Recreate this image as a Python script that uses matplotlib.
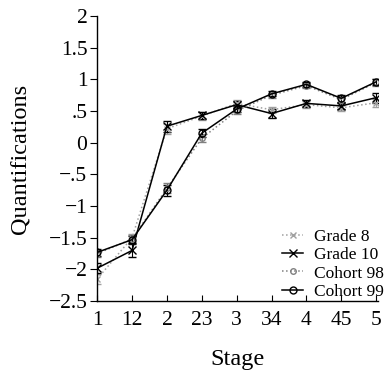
import matplotlib
matplotlib.use("Agg")
import matplotlib.pyplot as plt
from matplotlib.ticker import FuncFormatter
from matplotlib.lines import Line2D

stages = ["1", "12", "2", "23", "3", "34", "4", "45", "5"]
grade8 = [-2.15, -1.50, 0.22, 0.42, 0.62, 0.52, 0.60, 0.55, 0.63]
grade10 = [-1.98, -1.70, 0.26, 0.43, 0.60, 0.46, 0.62, 0.58, 0.71]
cohort98 = [-1.75, -1.52, -0.72, 0.07, 0.50, 0.75, 0.90, 0.68, 0.95]
cohort99 = [-1.73, -1.53, -0.75, 0.15, 0.53, 0.77, 0.92, 0.70, 0.96]
err8 = [0.08, 0.06, 0.08, 0.06, 0.05, 0.05, 0.05, 0.05, 0.06]
err10 = [0.08, 0.10, 0.09, 0.06, 0.05, 0.07, 0.05, 0.05, 0.08]
err98 = [0.06, 0.06, 0.08, 0.06, 0.05, 0.04, 0.04, 0.06, 0.05]
err99 = [0.06, 0.06, 0.09, 0.06, 0.05, 0.04, 0.04, 0.06, 0.05]

plt.rcParams['font.family'] = ['Liberation Serif', 'DejaVu Serif']
plt.rcParams['axes.unicode_minus'] = True

fig = plt.figure(figsize=(3.84, 3.70), dpi=100)
ax = fig.add_axes([0.253, 0.186, 0.731, 0.771])

x = list(range(len(stages)))
series = [
    ("Grade 8", grade8, err8, dict(color="#a0a0a0", ls=":", marker="x", ms=5)),
    ("Grade 10", grade10, err10, dict(color="black", ls="-", marker="x", ms=6)),
    ("Cohort 98", cohort98, err98, dict(color="#808080", ls=":", marker="o", ms=4, mfc="none")),
    ("Cohort 99", cohort99, err99, dict(color="black", ls="-", marker="o", ms=5, mfc="none")),
]
handles = []
for label, y, e, st in series:
    ax.errorbar(x, y, yerr=e, lw=1.1, capsize=3, elinewidth=0.8,
                capthick=0.8, mew=1.0, **st)
    handles.append(Line2D([], [], lw=1.1, mew=1.0, label=label, **st))

ax.set_xlim(0, 8.05)
ax.set_ylim(-2.5, 2)
ax.set_xticks(x)
ax.set_xticklabels(stages)
ax.set_yticks([-2.5, -2, -1.5, -1, -0.5, 0, 0.5, 1, 1.5, 2])

def fmt(v, pos):
    if abs(v - round(v)) < 1e-9:
        s = "%d" % round(v)
    else:
        s = ("%.1f" % abs(v))
        if s.startswith("0"):
            s = s[1:]
        if v < 0:
            s = "\u2212" + s
        return s
    return s.replace("-", "\u2212")

ax.yaxis.set_major_formatter(FuncFormatter(fmt))
ax.tick_params(axis="y", direction="out", length=5, labelsize=15.5, pad=2)
ax.tick_params(axis="x", direction="in", length=4, labelsize=15.5, pad=7)
for s in ["top", "right"]:
    ax.spines[s].set_visible(False)
ax.spines["left"].set_linewidth(1.0)
ax.spines["bottom"].set_linewidth(1.0)

ax.set_ylabel("Quantifications", fontsize=17.5, labelpad=12)
ax.set_xlabel("Stage", fontsize=17.5, labelpad=14)

leg = ax.legend(handles=handles, loc="lower right", frameon=False, fontsize=12.5,
                handlelength=1.2, handletextpad=0.6, labelspacing=0.13,
                borderaxespad=0.0, bbox_to_anchor=(1.045, -0.02))

fig.savefig("out.png", dpi=100)
